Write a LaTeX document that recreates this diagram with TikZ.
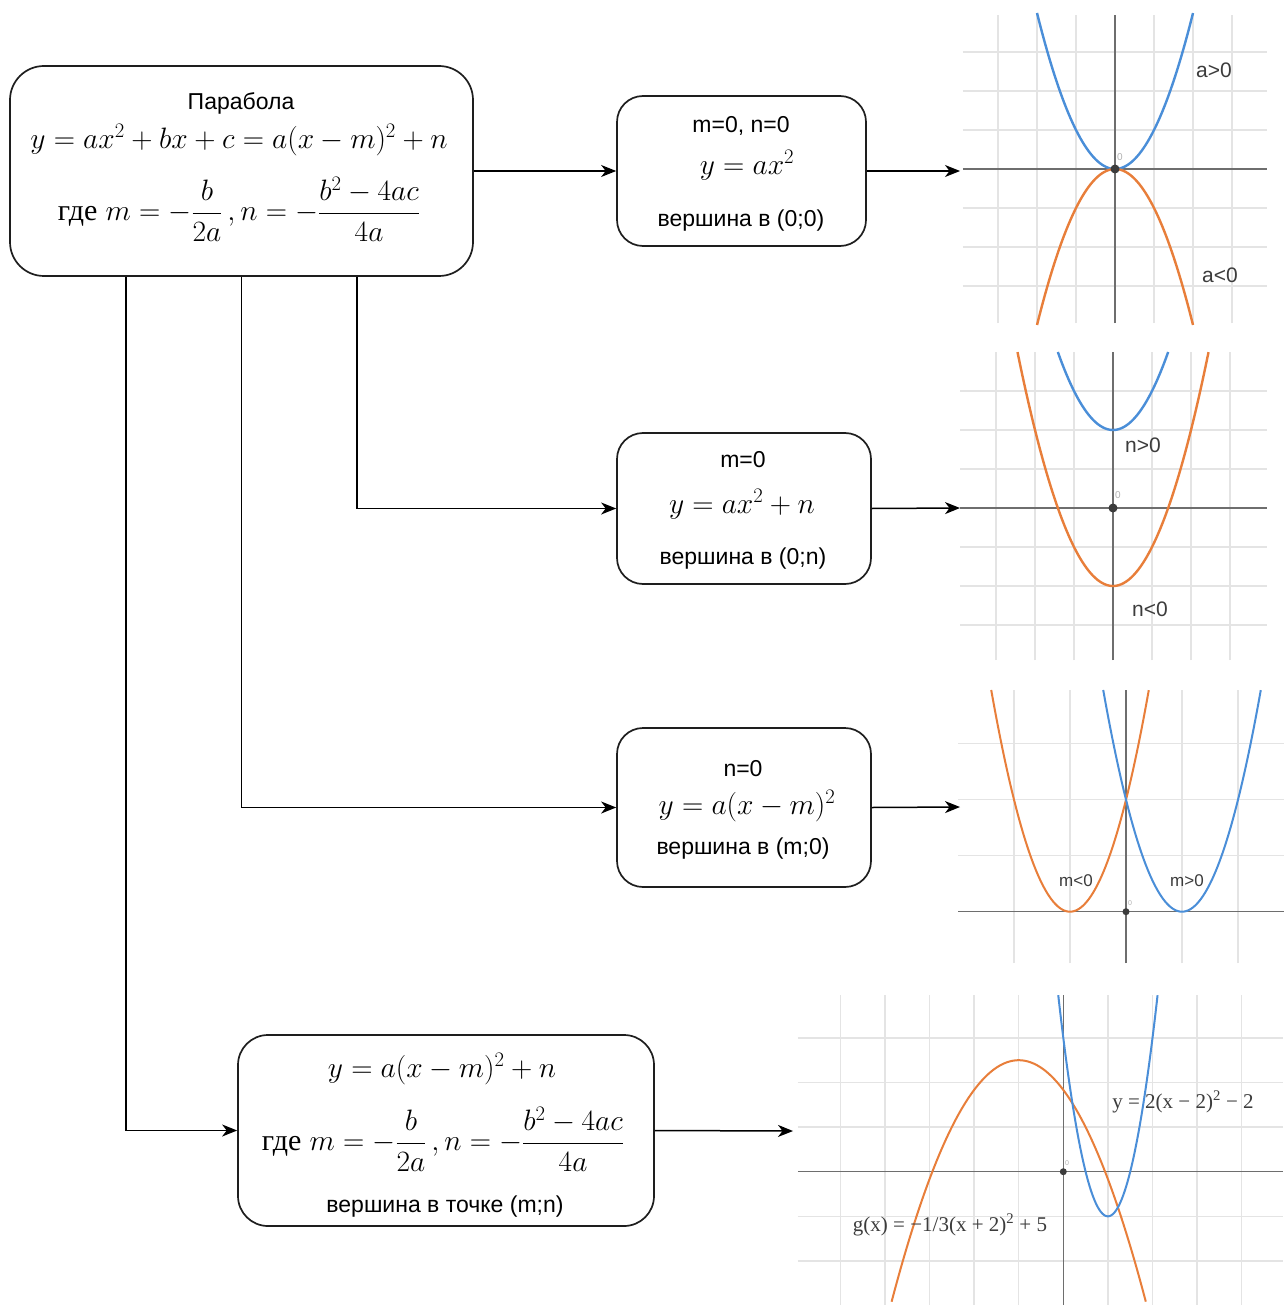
\RequirePackage{fix-cm}
\documentclass[tikz,border=0pt]{standalone}
\usepackage{amsmath}
\usepackage[no-math]{fontspec}
\setmainfont{Liberation Sans}
\newfontfamily\cyrserif{Liberation Serif}
\usetikzlibrary{arrows.meta}

\definecolor{curveblue}{RGB}{74,142,216}
\definecolor{curveorange}{RGB}{232,126,58}
\definecolor{gridgray}{RGB}{228,228,228}
\definecolor{axisgray}{RGB}{110,110,110}
\definecolor{labelgray}{RGB}{60,60,60}
\definecolor{boxline}{RGB}{30,30,30}

\newcommand{\gde}{{\cyrserif\fontsize{30}{34}\selectfont где}}

\begin{document}
\begin{tikzpicture}[x=1pt,y=-1pt,
  box/.style={draw=boxline,line width=1.7pt,rounded corners=#1,inner sep=0pt},
  box/.default=26pt,
  lbl/.style={inner sep=0pt,yshift=-2pt,font=\fontsize{23}{27}\selectfont},
  mth/.style={inner sep=0pt,font=\fontsize{29.5}{34}\selectfont},
  arr/.style={draw=black,line width=1.5pt,-{Stealth[length=15pt,width=12pt,inset=4.5pt]}},
  gridln/.style={draw=gridgray,line width=1.4pt},
  axisln/.style={draw=axisgray,line width=1.5pt},
  bluec/.style={draw=curveblue,line width=2.4pt},
  orangec/.style={draw=curveorange,line width=2.4pt},
  dotc/.style={fill=labelgray},
  glabel/.style={inner sep=0pt,text=labelgray,font=\fontsize{21}{25}\selectfont},
  glabelsm/.style={inner sep=0pt,text=labelgray,font=\fontsize{17}{20}\selectfont},
  zerolbl/.style={inner sep=0pt,text=gray!60,font=\fontsize{10}{12}\selectfont},
  fnlabel/.style={inner sep=0pt,text=labelgray,font=\cyrserif\fontsize{21}{25}\selectfont}]

\useasboundingbox[fill=white] (0,0) rectangle (1284,1305);

% ---------- boxes ----------
\node[box=34pt,minimum width=463pt,minimum height=210pt] (main) at (241.5,171) {};
\node[box,minimum width=249pt,minimum height=150pt] (b1) at (741.5,171) {};
\node[box,minimum width=254pt,minimum height=151pt] (b2) at (744,508.5) {};
\node[box,minimum width=254pt,minimum height=159pt] (b3) at (744,807.5) {};
\node[box=30pt,minimum width=416pt,minimum height=191pt] (b4) at (446,1130.5) {};

% ---------- texts in the boxes ----------
\node[lbl] (t0a) at (241,101) {Парабола};
\node[mth] (t0b) at (239,140) {$y=ax^2+bx+c=a(x-m)^2+n$};
\node[mth] (t0c) at (239,209) {\gde\ $m=-\dfrac{b}{2a}\,,n=-\dfrac{b^2-4ac}{4a}$};

\node[lbl] (t1a) at (741,124) {m=0, n=0};
\node[mth] (t1b) at (747,165) {$y=ax^2$};
\node[lbl] (t1c) at (741,219) {вершина в (0;0)};

\node[lbl] (t2a) at (743,458) {m=0};
\node[mth] (t2b) at (742,504) {$y=ax^2+n$};
\node[lbl] (t2c) at (743,557) {вершина в (0;n)};

\node[lbl] (t3a) at (743,767) {n=0};
\node[mth] (t3b) at (747,806) {$y=a(x-m)^2$};
\node[lbl] (t3c) at (743,847) {вершина в (m;0)};

\node[mth] (t4a) at (442,1069) {$y=a(x-m)^2+n$};
\node[mth] (t4b) at (443,1139) {\gde\ $m=-\dfrac{b}{2a}\,,n=-\dfrac{b^2-4ac}{4a}$};
\node[lbl] (t4c) at (445,1205) {вершина в точке (m;n)};

% ---------- graph entry points ----------
\coordinate (g1) at (960,171);
\coordinate (g2) at (960,508);
\coordinate (g3) at (960,807);
\coordinate (g4) at (793,1131);

% ---------- connectors ----------
\draw[arr] (main.east) -- (b1.west);
\draw[arr] (b1.east) -- (g1);
\draw[arr] ([xshift=115.5pt]main.south) |- (b2.west);
\draw[arr] (b2.east) -- (g2);
\draw[arr] (main.south) |- (b3.west);
\draw[arr] (b3.east) -- (g3);
\draw[arr] ([xshift=-115.5pt]main.south) |- (b4.west);
\draw[arr] (b4.east) -- (g4);

% ---------- graph 1: y = ax^2 ----------
\begin{scope}[shift={(1115,169)},x=39pt,y=39pt]
  \foreach \i in {-3,...,3} {\draw[gridln] (\i,-3.95) -- (\i,3.95);}
  \foreach \i in {-3,-2,-1,1,2,3} {\draw[gridln] (-3.9,\i) -- (3.9,\i);}
  \draw[axisln] (-3.9,0) -- (3.9,0);
  \draw[axisln] (0,-3.95) -- (0,3.95);
  \draw[bluec] plot[domain=-2:2,samples=80,smooth] (\x,{\x*\x});
  \draw[orangec] plot[domain=-2:2,samples=80,smooth] (\x,{-\x*\x});
  \fill[dotc] (0,0) circle (4.5pt);
\end{scope}
\node[zerolbl] (z1) at (1120,157) {0};
\node[glabel] (l1a) at (1214,70) {a>0};
\node[glabel] (l1b) at (1220,275) {a<0};

% ---------- graph 2: y = ax^2 + n ----------
\begin{scope}[shift={(1113,508)},x=39pt,y=39pt]
  \foreach \i in {-3,...,3} {\draw[gridln] (\i,-3.9) -- (\i,4);}
  \foreach \i in {-3,-2,-1,1,2,3} {\draw[gridln] (-3.92,\i) -- (3.95,\i);}
  \draw[axisln] (-3.92,0) -- (3.95,0);
  \draw[axisln] (0,-3.9) -- (0,4);
  \draw[bluec] plot[domain=-1.414:1.414,samples=80,smooth] (\x,{\x*\x+2});
  \draw[orangec] plot[domain=-2.449:2.449,samples=80,smooth] (\x,{\x*\x-2});
  \fill[dotc] (0,0) circle (4.5pt);
\end{scope}
\node[zerolbl] (z2) at (1118,495) {0};
\node[glabel] (l2a) at (1143,445) {n>0};
\node[glabel] (l2b) at (1150,609) {n<0};

% ---------- graph 3: y = a(x - m)^2 ----------
\begin{scope}[shift={(1126,911.7)},x=56pt,y=56pt]
  \foreach \i in {-2,...,2} {\draw[gridln] (\i,-0.92) -- (\i,3.96);}
  \foreach \i in {1,2,3} {\draw[gridln] (-3,\i) -- (2.82,\i);}
  \draw[axisln] (-3,0) -- (2.82,0);
  \draw[axisln] (0,-0.92) -- (0,3.96);
  \draw[orangec,line width=2pt] plot[domain=-2.407:0.407,samples=80,smooth] (\x,{2*(\x+1)*(\x+1)});
  \draw[bluec,line width=2pt] plot[domain=-0.407:2.407,samples=80,smooth] (\x,{2*(\x-1)*(\x-1)});
  \fill[dotc] (0,0) circle (3.5pt);
\end{scope}
\node[zerolbl,font=\fontsize{7}{8}\selectfont] (z3) at (1130,903) {0};
\node[glabelsm] (l3a) at (1076,881) {m<0};
\node[glabelsm] (l3b) at (1187,881) {m>0};

% ---------- graph 4: y = a(x - m)^2 + n ----------
\begin{scope}[shift={(1063.3,1171.7)},x=22.3pt,y=22.3pt]
  \foreach \i in {-10,-8,...,8} {\draw[gridln] (\i,-6) -- (\i,7.92);}
  \foreach \i in {-4,-2,2,4,6} {\draw[gridln] (-11.9,\i) -- (9.86,\i);}
  \draw[axisln] (-11.9,0) -- (9.86,0);
  \draw[axisln] (0,-6) -- (0,7.92);
  \draw[orangec,line width=2pt] plot[domain=-7.7:3.7,samples=100,smooth] (\x,{-(\x+2)*(\x+2)/3+5});
  \draw[bluec,line width=2pt] plot[domain=-0.227:4.227,samples=100,smooth] (\x,{2*(\x-2)*(\x-2)-2});
  \fill[dotc] (0,0) circle (3.5pt);
\end{scope}
\node[zerolbl,font=\fontsize{7}{8}\selectfont] (z4) at (1067,1163) {0};
\node[fnlabel] (l4a) at (1183,1102) {y = 2(x − 2)\textsuperscript{2} − 2};
\node[fnlabel] (l4b) at (950,1225) {g(x) = −1/3(x + 2)\textsuperscript{2} + 5};

\end{tikzpicture}
\end{document}
